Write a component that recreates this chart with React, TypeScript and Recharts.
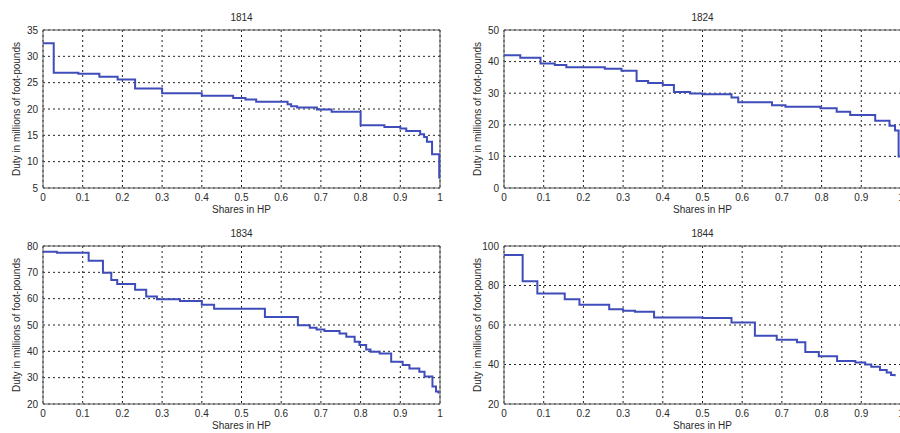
import { LineChart, Line, XAxis, YAxis, CartesianGrid, ReferenceArea } from "recharts";

// Shares in HP (x) and duty in millions of foot-pounds (y), step starts
const shares1814 = [0, 0.027, 0.089, 0.142, 0.188, 0.232, 0.3, 0.4, 0.479, 0.51, 0.537, 0.616, 0.625, 0.64, 0.69, 0.727, 0.8, 0.86, 0.9, 0.915, 0.95, 0.96, 0.967, 0.98, 0.998, 1];
const duty1814 = [32.5, 26.9, 26.7, 26.1, 25.6, 23.9, 23.0, 22.5, 22.1, 21.8, 21.4, 20.9, 20.5, 20.3, 19.9, 19.5, 16.9, 16.6, 16.3, 15.8, 15.2, 14.7, 13.8, 11.4, 7.0, 7.0];

const shares1824 = [0, 0.041, 0.092, 0.128, 0.157, 0.254, 0.296, 0.334, 0.363, 0.4, 0.428, 0.469, 0.5, 0.573, 0.59, 0.675, 0.709, 0.797, 0.838, 0.872, 0.935, 0.971, 0.985, 0.994, 1];
const duty1824 = [42.0, 41.2, 39.4, 38.9, 38.2, 37.7, 37.1, 33.9, 33.2, 32.6, 30.4, 29.9, 29.7, 28.6, 27.1, 26.2, 25.7, 25.2, 24.1, 23.1, 21.3, 19.7, 18.2, 10.0, 10.0];

const shares1834 = [0, 0.035, 0.115, 0.151, 0.172, 0.187, 0.232, 0.26, 0.287, 0.345, 0.4, 0.431, 0.559, 0.642, 0.672, 0.689, 0.709, 0.747, 0.764, 0.785, 0.797, 0.814, 0.825, 0.848, 0.877, 0.906, 0.923, 0.948, 0.961, 0.981, 0.99, 0.996];
const duty1834 = [77.8, 77.4, 74.4, 69.8, 67.1, 65.6, 63.4, 60.8, 59.8, 59.1, 57.7, 56.2, 53.0, 49.9, 49.0, 48.3, 47.7, 46.8, 45.5, 43.6, 42.4, 40.7, 39.8, 39.2, 36.0, 34.8, 33.5, 32.2, 30.4, 26.6, 24.7, 24.0];

const shares1844 = [0, 0.047, 0.084, 0.153, 0.19, 0.265, 0.3, 0.33, 0.378, 0.5, 0.573, 0.632, 0.687, 0.738, 0.759, 0.793, 0.839, 0.885, 0.91, 0.925, 0.947, 0.964, 0.975, 0.984];
const duty1844 = [95.5, 82.2, 76.0, 73.0, 70.2, 68.0, 67.2, 66.7, 63.8, 63.5, 61.3, 54.6, 52.5, 51.3, 46.3, 44.2, 41.8, 41.0, 40.0, 38.8, 37.2, 36.0, 34.7, 34.0];

const xTicks = [0, 0.1, 0.2, 0.3, 0.4, 0.5, 0.6, 0.7, 0.8, 0.9, 1];

const FONT = "'Liberation Sans', Arial, sans-serif";
const TEXT = "#2a2a2a";

type PanelProps = {
  title: string;
  shares: number[];
  duty: number[];
  yDomain: [number, number];
  yTicks: number[];
  left: number;
  top: number;
  yAxisWidth: number;
};

function Panel({ title, shares, duty, yDomain, yTicks, left, top, yAxisWidth }: PanelProps) {
  const data = shares.map((s, i) => ({ share: s, duty: duty[i] }));
  const plotW = 397;
  const width = yAxisWidth + plotW + 9;
  const height = 217;
  const centerX = left + yAxisWidth + plotW / 2;

  return (
    <>
      <div
        style={{
          position: "absolute",
          left: centerX - 40,
          width: 80,
          top: top + 12,
          textAlign: "center",
          fontSize: 10,
          color: TEXT,
          fontFamily: FONT,
        }}
      >
        {title}
      </div>
      <div
        style={{
          position: "absolute",
          left: centerX - 60,
          width: 120,
          top: top + 204,
          textAlign: "center",
          fontSize: 10,
          color: TEXT,
          fontFamily: FONT,
        }}
      >
        Shares in HP
      </div>
      <div
        style={{
          position: "absolute",
          left: left + yAxisWidth - 27,
          top: top + 109,
          transform: "translate(-50%, -50%) rotate(-90deg)",
          whiteSpace: "nowrap",
          fontSize: 10,
          color: TEXT,
          fontFamily: FONT,
        }}
      >
        Duty in millions of foot-pounds
      </div>
      <div style={{ position: "absolute", left, top }}>
        <LineChart width={width} height={height} data={data} margin={{ top: 30, right: 9, bottom: 0, left: 0 }}>
          <CartesianGrid stroke="#222" strokeDasharray="2 3" strokeWidth={1} />
          <XAxis
            dataKey="share"
            type="number"
            domain={[0, 1]}
            ticks={xTicks}
            height={29}
            tickSize={0}
            tickMargin={6}
            axisLine={false}
            tick={{ fontSize: 10, fill: TEXT, fontFamily: FONT }}
          />
          <YAxis
            type="number"
            domain={yDomain}
            ticks={yTicks}
            width={yAxisWidth}
            tickSize={0}
            tickMargin={5}
            axisLine={false}
            tick={{ fontSize: 10, fill: TEXT, fontFamily: FONT }}
          />
          <ReferenceArea
            x1={0}
            x2={1}
            y1={yDomain[0]}
            y2={yDomain[1]}
            fill="none"
            stroke="#555"
            strokeWidth={1}
            ifOverflow="visible"
          />
          <Line
            type="stepAfter"
            dataKey="duty"
            stroke="#3f4dbb"
            strokeWidth={2}
            dot={false}
            isAnimationActive={false}
          />
        </LineChart>
      </div>
    </>
  );
}

export default function App() {
  return (
    <div
      style={{
        position: "fixed",
        left: 0,
        top: 0,
        width: 900,
        height: 433,
        overflow: "hidden",
        background: "#fff",
      }}
    >
      <Panel title="1814" shares={shares1814} duty={duty1814} yDomain={[5, 35]} yTicks={[5, 10, 15, 20, 25, 30, 35]} left={0} top={0} yAxisWidth={43} />
      <Panel title="1824" shares={shares1824} duty={duty1824} yDomain={[0, 50]} yTicks={[0, 10, 20, 30, 40, 50]} left={450} top={0} yAxisWidth={54} />
      <Panel title="1834" shares={shares1834} duty={duty1834} yDomain={[20, 80]} yTicks={[20, 30, 40, 50, 60, 70, 80]} left={0} top={216} yAxisWidth={43} />
      <Panel title="1844" shares={shares1844} duty={duty1844} yDomain={[20, 100]} yTicks={[20, 40, 60, 80, 100]} left={450} top={216} yAxisWidth={54} />
    </div>
  );
}
